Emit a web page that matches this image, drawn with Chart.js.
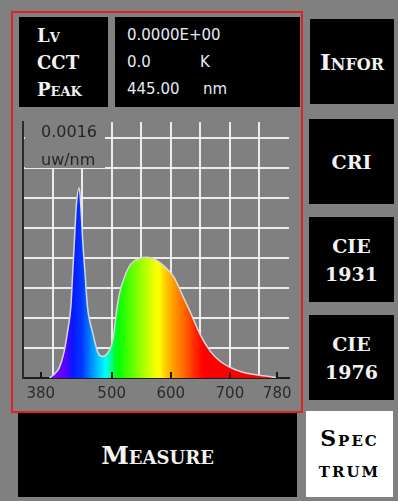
<!DOCTYPE html>
<html>
<head>
<meta charset="utf-8">
<script src="https://cdn.jsdelivr.net/npm/chart.js@4.4.1/dist/chart.umd.min.js"></script>
<style>
  html, body { margin:0; padding:0; }
  body { width:398px; height:501px; background:#808080; position:relative; overflow:hidden; font-family:"DejaVu Sans", sans-serif; }
  .abs { position:absolute; box-sizing:border-box; }
  .blk { background:#000; }
  .btn { color:#f2f2f2; font-family:"DejaVu Serif", serif; font-weight:bold; font-variant:small-caps; display:flex; align-items:center; justify-content:center; text-align:center; }
  #frame { left:11px; top:11px; width:292px; height:402px; border:2px solid #e02222; }
  #lab { left:19px; top:17px; width:89px; height:90px; padding:5px 0 0 18px; color:#f2f2f2; font-family:"DejaVu Serif", serif; font-weight:bold; font-variant:small-caps; font-size:18px; line-height:27px; }
  #val { left:115px; top:17px; width:185px; height:90px; padding:5px 0 0 12px; color:#e4eaf6; font-family:"DejaVu Sans", sans-serif; font-size:15px; line-height:27px; }
  #val .u { position:absolute; left:73px; }
  #chartBox { left:13px; top:110px; width:288px; height:300px; }
  #ylab { left:25px; top:118px; width:80px; height:50px; background:#808080; padding-left:16px; color:#262626; font-size:16px; line-height:28px; }
</style>
</head>
<body>
<div class="abs" id="frame"></div>
<div class="abs blk" id="lab">Lv<br>CCT<br>Peak</div>
<div class="abs blk" id="val">
  <div>0.0000E+00</div>
  <div style="position:relative">0.0<span class="u">K</span></div>
  <div style="position:relative">445.00<span class="u" style="left:76px">nm</span></div>
</div>
<div class="abs blk btn" style="left:310px;top:19px;width:84px;height:85px;font-size:23px;">Infor</div>
<div class="abs blk btn" style="left:309px;top:119px;width:85px;height:85px;font-size:19px;">CRI</div>
<div class="abs blk btn" style="left:309px;top:217px;width:85px;height:85px;font-size:19px;line-height:28px;">CIE<br>1931</div>
<div class="abs blk btn" style="left:309px;top:315px;width:85px;height:85px;font-size:19px;line-height:28px;">CIE<br>1976</div>
<div class="abs btn" style="left:306px;top:411px;width:87px;height:86px;background:#fff;color:#000;font-size:22px;line-height:31px;letter-spacing:2px;">Spec<br>trum</div>
<div class="abs blk btn" style="left:18px;top:413px;width:279px;height:84px;font-size:25px;">Measure</div>

<div class="abs" id="chartBox"><canvas id="c"></canvas></div>
<div class="abs" id="ylab">0.0016<br>uw/nm</div>

<script>
// ---- data ----
const wavelengths = [395,402,411,419,425,431,434,437,440,445,448,451,455,459,468,476,484,493,502,508,513,522,533,547,560,576,590,605,621,633,650,667,684,701,718,736,753,770,780];
const irradiance  = [0,0.000022,0.000066,0.000166,0.0003,0.000478,0.000698,0.000918,0.00114,0.00127,0.00114,0.000918,0.000698,0.000478,0.0003,0.000178,0.000144,0.000166,0.000254,0.00044,0.00056,0.000678,0.000764,0.000798,0.000806,0.000786,0.000742,0.000676,0.000542,0.00044,0.000288,0.000178,0.00011,0.00007,0.000044,0.000026,0.000016,0.000008,0];
const xTickLabels = [380,500,600,700,780];
const xMin = 350, xMax = 800, xGridStep = 50;
const yMin = 0, yMax = 0.00171, yGridStep = 0.0002, yGridTop = 0.0016;
const spectrumStops = [[400,'#7a00ff'],[420,'#5a00ff'],[435,'#0818ff'],[450,'#0038ff'],[462,'#0078ff'],[476,'#00c0ff'],[490,'#00ffff'],[499,'#00ff90'],[505,'#00ff30'],[515,'#10ff00'],[535,'#60ff00'],[555,'#b0ff00'],[570,'#e8ff00'],[580,'#ffff00'],[590,'#ffd000'],[605,'#ff9a00'],[625,'#ff6000'],[640,'#ff2a00'],[655,'#ff0000'],[800,'#ff0000']];

const points = wavelengths.map((w,i)=>({x:w, y:irradiance[i]}));

function spectrumFill(context){
  const chart = context.chart;
  const {ctx, chartArea, scales} = chart;
  if (!chartArea) return '#00f';
  const x0 = scales.x.getPixelForValue(xMin), x1 = scales.x.getPixelForValue(xMax);
  const g = ctx.createLinearGradient(x0, 0, x1, 0);
  spectrumStops.forEach(([w,c]) => g.addColorStop((w - xMin)/(xMax - xMin), c));
  return g;
}

const tickMarks = {
  id:'tickMarks',
  afterDraw(chart){
    const {ctx, chartArea, scales} = chart;
    ctx.save();
    ctx.strokeStyle = '#1a1a1a';
    ctx.lineWidth = 2;
    scales.x.ticks.forEach(t => {
      const px = Math.round(scales.x.getPixelForValue(t.value));
      ctx.beginPath();
      ctx.moveTo(px, chartArea.bottom - 6);
      ctx.lineTo(px, chartArea.bottom);
      ctx.stroke();
    });
    ctx.restore();
  }
};

new Chart(document.getElementById('c'), {
  type:'line',
  data:{ datasets:[{
    data: points,
    fill:'origin',
    backgroundColor: spectrumFill,
    borderColor:'#d8d8d8',
    borderWidth:1.5,
    pointRadius:0,
    cubicInterpolationMode:'monotone'
  }]},
  options:{
    responsive:true, maintainAspectRatio:false, animation:false, devicePixelRatio:1,
    layout:{ padding:{ left:10, top:12, right:12, bottom:0 } },
    plugins:{ legend:{display:false}, tooltip:{enabled:false} },
    scales:{
      x:{
        type:'linear', min:xMin, max:xMax, position:'bottom', z:2,
        afterBuildTicks: s => { s.ticks = xTickLabels.map(v => ({value:v})); },
        grid:{ display:true, drawOnChartArea:false, drawTicks:false },
        border:{ display:true, color:'#1e1e1e', width:2 },
        ticks:{ autoSkip:false, maxRotation:0, padding:7, color:'#2b2b2b', font:{ family:'DejaVu Sans', size:15 } }
      },
      xg:{
        type:'linear', min:xMin, max:xMax, position:'top', z:1,
        afterBuildTicks: s => { const t=[]; for(let v=xMin+xGridStep; v<xMax; v+=xGridStep) t.push({value:v}); s.ticks = t; },
        grid:{ color:'rgba(245,245,245,0.92)', lineWidth:2, drawTicks:false },
        border:{ display:false },
        ticks:{ display:false }
      },
      y:{
        type:'linear', min:yMin, max:yMax, z:1,
        afterBuildTicks: s => { const t=[]; for(let k=1; k*yGridStep <= yGridTop + 1e-9; k++) t.push({value:k*yGridStep}); s.ticks = t; },
        grid:{ color:'rgba(245,245,245,0.92)', lineWidth:2, drawTicks:false },
        border:{ display:true, color:'#2a2a2a', width:2 },
        ticks:{ display:false }
      }
    }
  },
  plugins:[tickMarks]
});
</script>
</body>
</html>
